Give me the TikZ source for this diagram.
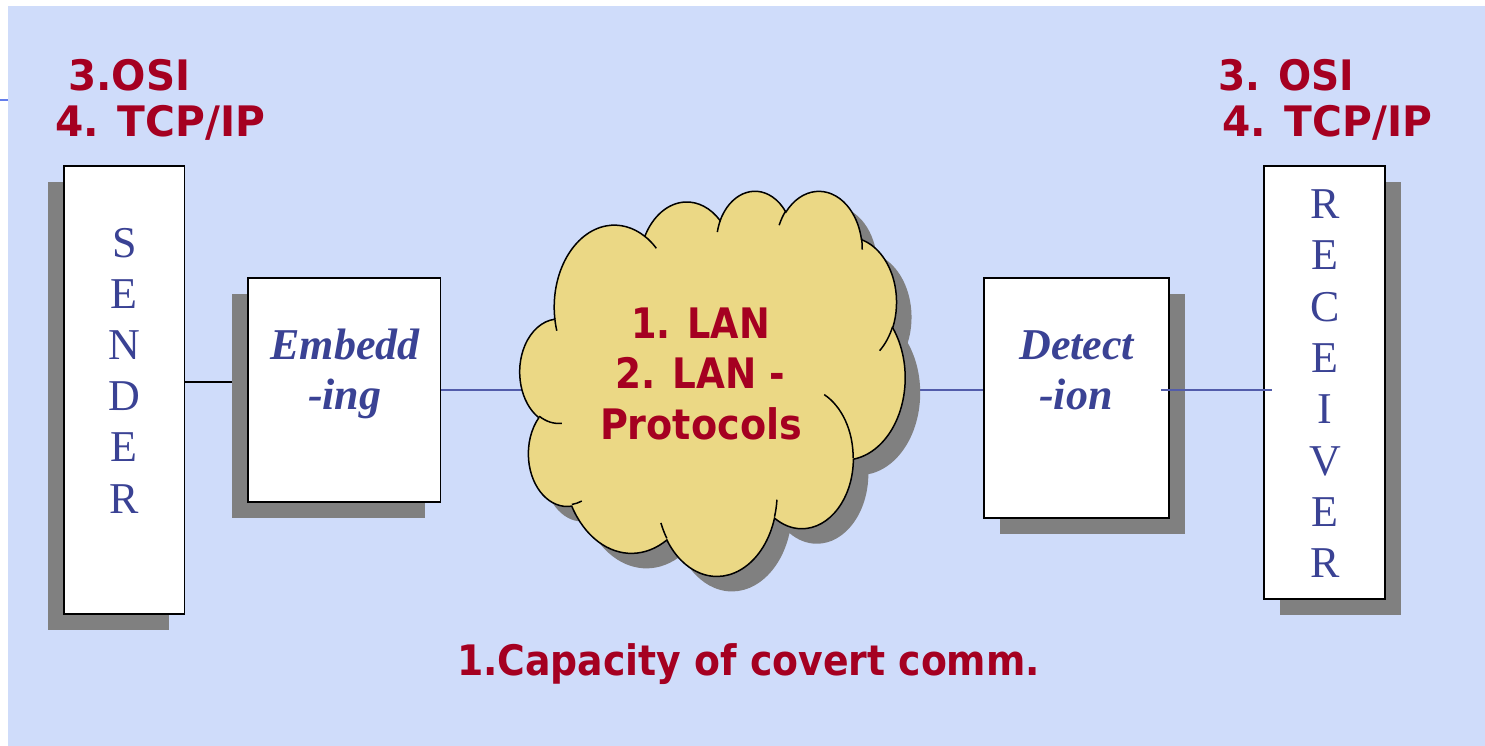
\documentclass[tikz,border=0pt]{standalone}
\usepackage{fontspec}
\usepackage{graphicx}
\setmainfont{Liberation Serif}
\newfontfamily\sansbold{DejaVu Sans}
\usetikzlibrary{shadows,calc}

\pgfdeclarelayer{backdrop}
\pgfdeclarelayer{background}
\pgfsetlayers{backdrop,background,main}

\definecolor{bgblue}{RGB}{207,220,250}
\definecolor{shadowgray}{RGB}{128,128,128}
\definecolor{cloudfill}{RGB}{235,216,133}
\definecolor{titlered}{RGB}{165,0,33}
\definecolor{inkblue}{RGB}{58,66,148}
\definecolor{wireblue}{RGB}{82,92,170}
\definecolor{tickblue}{RGB}{100,125,235}

% Elliptic arc given as (x radius, y radius, start angle, sweep), where the
% angles are visual angles; converted here to TikZ's parametric angles.
\newcommand\ooArcCalc[4]{%
  \pgfmathsetmacro\ooS{atan2((#1)*sin(#3),(#2)*cos(#3))}%
  \pgfmathsetmacro\ooE{atan2((#1)*sin((#3)+(#4)),(#2)*cos((#3)+(#4)))}%
  \pgfmathsetmacro\ooD{\ooE-(\ooS)}%
  \pgfmathsetmacro\ooD{\ooD+360*round(((#4)-(\ooD))/360)}%
  \global\let\ooS\ooS
  \global\let\ooD\ooD
}

\tikzset{
  ooarc/.style args={#1/#2/#3/#4}{/utils/exec={\ooArcCalc{#1}{#2}{#3}{#4}},
    x radius=#1, y radius=#2, start angle=\ooS, delta angle=\ooD},
  panel/.style={draw=black, line width=1.8pt, fill=white, inner sep=0pt},
  shadowL/.style={drop shadow={shadow xshift=-16pt, shadow yshift=-16pt,
    opacity=1, fill=shadowgray}},
  shadowR/.style={drop shadow={shadow xshift=16pt, shadow yshift=-16pt,
    opacity=1, fill=shadowgray}},
  redtext/.style={inner sep=0pt, text=titlered,
    font=\sansbold\bfseries\fontsize{42}{50}\selectfont},
  letter/.style={inner sep=0pt, anchor=base, text=inkblue,
    font=\fontsize{44}{51}\selectfont},
  boxtext/.style={inner sep=0pt, anchor=base, text=inkblue,
    font=\bfseries\itshape\fontsize{44}{51}\selectfont},
  wire/.style={draw=wireblue, line width=1.5pt},
  blackwire/.style={draw=black, line width=1.5pt},
  cloudline/.style={draw=black, line width=1.5pt},
}

\begin{document}
\begin{tikzpicture}[x=1pt,y=-1pt]
\useasboundingbox (0,0) rectangle (1485,746);

\begin{pgfonlayer}{backdrop}
  \fill[white] (0,0) rectangle (1485,746);
  \fill[bgblue] (8,6) rectangle (1485,746);
  \draw[tickblue, line width=1.5pt] (0,100) -- (8,100);
\end{pgfonlayer}

% the four boxes
\node[panel, shadowL, minimum width=120.5pt, minimum height=448pt] (sender) at (124.25,390) {};
\node[panel, shadowL, minimum width=192.5pt, minimum height=224pt] (embed) at (344.25,390) {};
\node[panel, shadowR, minimum width=185pt, minimum height=240pt] (detect) at (1076.5,398) {};
\node[panel, shadowR, minimum width=121pt, minimum height=433pt] (receiver) at (1324.5,382.5) {};

% the network cloud
\coordinate (lan) at (712.5,390);
\begin{scope}[shift={(520,190)}, x=0.0891204pt, y=-0.0891204pt]
  \path[fill=cloudfill, cloudline,
        drop shadow={shadow xshift=15pt, shadow yshift=-15pt, opacity=1, fill=shadowgray}]
    (390,1437)
    arc[ooarc=675.3/919.0/-190.48748/123.78053]
    arc[ooarc=533.3/726.7/-144.10238/89.94523]
    arc[ooarc=436.5/594.5/-145.80792/99.72302]
    arc[ooarc=485.7/659.5/-130.98607/117.24173]
    arc[ooarc=533.3/727.3/-78.70888/109.02692]
    arc[ooarc=677.5/922.0/-46.26725/130.269]
    arc[ooarc=578.5/786.7/0.62502/114.03333]
    arc[ooarc=675.2/921.5/22.4516/115.17255]
    arc[ooarc=772.0/1054.3/66.24263/75.71102]
    arc[ooarc=436.0/591.8/-274.94208/146.73557]
    arc[ooarc=434.5/594.5/-246.8285/152.51885]
    -- cycle;
  % inner puff lines
  \draw[cloudline]
    (469.3,2617.7) arc[ooarc=434.5/594.5/86.742/26.4295]
    (692.8,3489.9) arc[ooarc=436.0/591.8/73.61047/11.44747]
    (1647.8,3909.0) arc[ooarc=675.2/921.5/137.62415/14.0811]
    (2882.7,3475.1) arc[ooarc=675.2/921.5/6.45327/15.99835]
    (3412.9,2295.4) arc[ooarc=578.5/786.7/-70.29235/70.91737]
    (4179.8,1535.4) arc[ooarc=533.3/727.3/30.31803/27.7515]
    (3832.4,542.6) arc[ooarc=485.7/659.5/-13.74433/14.8589]
    (2907.8,395.2) arc[ooarc=485.7/659.5/-149.18145/18.19537]
    (2214.1,472.0) arc[ooarc=436.5/594.5/-163.49427/17.68635]
    (1400.0,519.2) arc[ooarc=675.3/919.0/-66.70695/12.31935]
    (412.7,1578.9) arc[ooarc=675.3/919.0/157.65435/11.85817];
\end{scope}

% connectors behind the shapes
\begin{pgfonlayer}{background}
  \draw[blackwire] ($(sender.east)+(0,-8)$) -- ($(sender.east -| embed.west)+(0,-8)$);
  \draw[wire] (lan -| embed.east) -- (lan);
  \draw[wire] (lan) -- (lan -| detect.west);
\end{pgfonlayer}
\draw[wire] ($(lan -| detect.east)+(-9,0)$) -- ($(lan -| receiver.west)+(9,0)$);

% box labels
\foreach \ch [count=\i from 0] in {S,E,N,D,E,R}
  \node[letter] (snd\i) at ({124.3},{257+51.2*\i}) {\ch};
\foreach \ch [count=\i from 0] in {R,E,C,E,I,V,E,R}
  \node[letter] (rcv\i) at ({1325},{218.5+51.35*\i}) {\ch};
\node[boxtext] (embedA) at (345,359) {Embedd};
\node[boxtext] (embedB) at (344.7,409) {-ing};
\node[boxtext] (detectA) at (1076.7,359) {Detect};
\node[boxtext] (detectB) at (1075.8,409.5) {-ion};

% red annotations
\node[redtext, anchor=base west] (osiL) at (68,91) {\resizebox{122pt}{\height}{3.OSI}};
\node[redtext, anchor=base west] (tcpL) at (55,137) {\resizebox{210pt}{\height}{4. TCP/IP}};
\node[redtext, anchor=base west] (osiR) at (1218,91) {\resizebox{136pt}{\height}{3. OSI}};
\node[redtext, anchor=base west] (tcpR) at (1222,137) {\resizebox{210pt}{\height}{4. TCP/IP}};
\node[redtext, anchor=base] (lanA) at (700.5,338) {\resizebox{139pt}{\height}{1. LAN}};
\node[redtext, anchor=base] (lanB) at (700,388) {\resizebox{170pt}{\height}{2. LAN -}};
\node[redtext, anchor=base] (lanC) at (701,439) {\resizebox{202pt}{\height}{Protocols}};
\node[redtext, anchor=base] (capacity) at (748.5,675) {\resizebox{583pt}{\height}{1.Capacity of covert comm.}};
\end{tikzpicture}
\end{document}
